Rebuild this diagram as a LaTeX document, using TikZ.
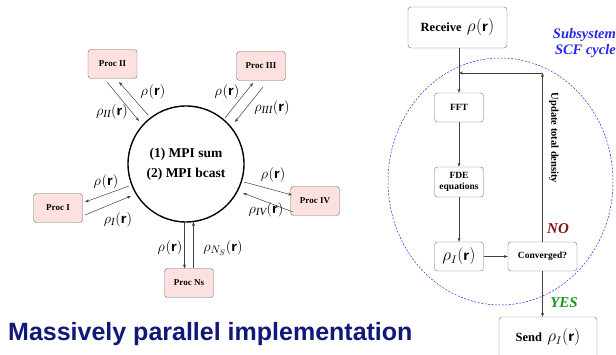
\documentclass[tikz,border=0pt]{standalone}
\usepackage{fontspec}
\setmainfont{Liberation Serif}
\newfontfamily\titlefont{Liberation Sans}
\usetikzlibrary{arrows.meta}
\definecolor{procpink}{RGB}{253,224,224}
\definecolor{titleblue}{RGB}{16,24,120}
\definecolor{subblue}{RGB}{40,40,230}
\definecolor{nored}{RGB}{140,10,20}
\definecolor{yesgreen}{RGB}{20,150,30}
\definecolor{boxgray}{RGB}{110,110,110}
\newcommand{\rr}{\textsf{\textbf{r}}}
\newcommand{\rhor}[1][]{$\rho_{#1}(\mbox{\rr})$}
\tikzset{
  x=1pt, y=-1pt,
  procbox/.style={draw=boxgray, fill=procpink, rounded corners=3pt, minimum width=49pt, minimum height=29pt, inner sep=0pt, font=\bfseries\fontsize{9}{10}\selectfont},
  flowbox/.style={draw=boxgray, fill=white, rounded corners=3pt, minimum width=49pt, minimum height=29pt, inner sep=0pt, font=\bfseries\fontsize{9.5}{11}\selectfont, align=center},
  conn/.style={draw=black!75, line width=0.5pt, -{Stealth[length=4pt,width=3pt]}},
  lab/.style={font=\fontsize{15.5}{16}\selectfont, inner sep=0pt},
}
\begin{document}
\begin{tikzpicture}
\useasboundingbox (0,0) rectangle (616,355);
% circle
\node[draw, circle, line width=1.4pt, minimum size=116pt, inner sep=0pt, align=center, font=\bfseries\fontsize{13.5}{20}\selectfont] (mpi) at (186,164) {(1) MPI sum\\(2) MPI bcast};
% proc boxes
\node[procbox] (p2) at (112.5,64) {Proc II};
\node[procbox] (p3) at (261,66) {Proc III};
\node[procbox] (p1) at (58,208) {Proc I};
\node[procbox] (p4) at (315,201) {Proc IV};
\node[procbox] (pn) at (189,283) {Proc Ns};
% connector endpoints
\coordinate (a2o1) at (107,82); \coordinate (a2i1) at (139,121);
\coordinate (a2o2) at (148,115); \coordinate (a2i2) at (119,82);
\draw[conn] (a2o1) -- (a2i1);
\draw[conn] (a2o2) -- (a2i2);
\node[lab] at (153,92) {\rhor};
\node[lab] at (112,112) {\rhor[\mathit{II}]};

\coordinate (a3o1) at (225,118); \coordinate (a3i1) at (253,83);
\coordinate (a3o2) at (263,87); \coordinate (a3i2) at (235,122);
\draw[conn] (a3o1) -- (a3i1);
\draw[conn] (a3o2) -- (a3i2);
\node[lab] at (227,92) {\rhor};
\node[lab] at (272,108) {\rhor[\mathit{III}]};

\coordinate (a4o1) at (244,182); \coordinate (a4i1) at (292,195);
\coordinate (a4o2) at (293,212); \coordinate (a4i2) at (243,193);
\draw[conn] (a4o1) -- (a4i1);
\draw[conn] (a4o2) -- (a4i2);
\node[lab] at (273,175) {\rhor};
\node[lab] at (266,210) {\rhor[\mathit{IV}]};

\coordinate (a1o1) at (129,186); \coordinate (a1i1) at (85,202);
\coordinate (a1o2) at (85,215); \coordinate (a1i2) at (131,196);
\draw[conn] (a1o1) -- (a1i1);
\draw[conn] (a1o2) -- (a1i2);
\node[lab] at (106,182) {\rhor};
\node[lab] at (118,220) {\rhor[\mathit{I}]};

\coordinate (ano1) at (184.5,222); \coordinate (ani1) at (184.5,268.5);
\coordinate (ano2) at (193.5,268.5); \coordinate (ani2) at (193.5,222);
\draw[conn] (ano1) -- (ani1);
\draw[conn] (ano2) -- (ani2);
\node[lab] at (170,248) {\rhor};
\node[lab] at (223,248) {\rhor[N_S]};

% right side flowchart
\draw[subblue, line width=0.5pt, dash pattern=on 2pt off 1.5pt] (500.5,181.5) ellipse [x radius=112.5, y radius=123.5];
\node[align=right, anchor=east, text=subblue, font=\bfseries\itshape\fontsize{14.5}{16}\selectfont, inner sep=0pt] (sub) at (616,43) {Subsystem\\SCF cycle};

\node[flowbox, minimum width=99pt, minimum height=41pt, font=\bfseries\fontsize{12.5}{14}\selectfont] (recv) at (457.5,27.5) {Receive\, {\fontsize{16}{16}\selectfont\rhor}};
\node[flowbox] (fft) at (459,107.5) {FFT};
\node[flowbox, minimum height=30pt] (fde) at (459,182) {FDE\\equations};
\node[flowbox, font=\fontsize{16}{16}\selectfont] (rhoi) at (459,256.5) {\rhor[I]};
\node[flowbox, minimum width=69pt] (conv) at (542.5,256.5) {Converged?};
\node[flowbox, minimum width=98pt, minimum height=41pt, font=\bfseries\fontsize{12.5}{14}\selectfont] (send) at (548,337.5) {Send\, {\fontsize{16}{16}\selectfont\rhor[I]}};

\coordinate (join) at (459,73);
\coordinate (upd) at (542.5,73);
\draw[conn] (recv.south -| fft.north) -- (fft.north);
\draw[conn] (fft) -- (fde);
\draw[conn] (fde) -- (rhoi);
\draw[conn] (rhoi) -- (conv);
\draw[conn] (conv.north) -- (upd);
\draw[conn] (upd) -- (join);
\draw[conn] (conv.south) -- (conv.south |- send.north);
\node[rotate=-90, font=\bfseries\fontsize{10.5}{12}\selectfont] (updl) at (554,138) {Update total density};
\node[text=nored, font=\bfseries\itshape\fontsize{15}{16}\selectfont] (no) at (558,229) {NO};
\node[text=yesgreen, font=\bfseries\itshape\fontsize{15}{16}\selectfont] (yes) at (564,303) {YES};

% title
\node[anchor=base west, text=titleblue, inner sep=0pt, font=\titlefont\bfseries\fontsize{25}{27}\selectfont] (title) at (8,341) {Massively parallel implementation};
\end{tikzpicture}
\end{document}
